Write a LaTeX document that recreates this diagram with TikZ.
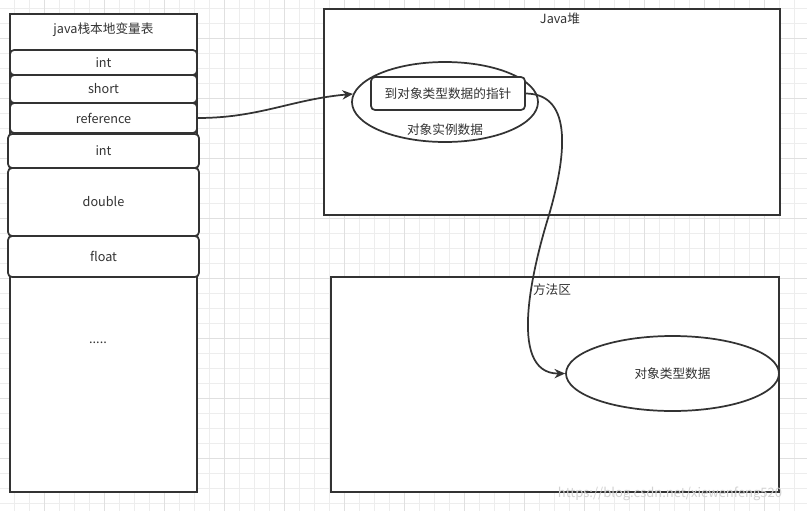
\documentclass[tikz,border=0pt]{standalone}
\usepackage{fontspec}
\setmainfont{Noto Sans CJK SC}
\usetikzlibrary{arrows.meta, shapes.geometric}
\usepackage{xcolor}
\definecolor{lnc}{HTML}{333333}
\definecolor{gridminor}{HTML}{EDEDED}
\definecolor{gridmajor}{HTML}{E0E0E0}
\newdimen\pxu \pxu=0.75pt

\begin{document}
\begin{tikzpicture}[x=0.75pt,y=-0.75pt,
  box/.style={draw=lnc,fill=white,line width=1.3pt,inner sep=0pt},
  cell/.style={box,rounded corners=3pt,font=\fontsize{9.5}{11}\selectfont,text=lnc},
  blob/.style={box,ellipse,font=\fontsize{9.5}{11}\selectfont,text=lnc},
  lbl/.style={font=\fontsize{9.5}{11}\selectfont,text=lnc,inner sep=0pt},
  arr/.style={-{Stealth[length=8pt,width=7pt]},lnc,line width=1.3pt}
]
\useasboundingbox (0,0) rectangle (807,511);
% background grid
\fill[white] (0,0) rectangle (807,511);
\foreach \gx in {14.3,29.3,...,807} \draw[gridminor,line width=0.75pt] (\gx,0) -- (\gx,511);
\foreach \gy in {8.3,23.3,...,511} \draw[gridminor,line width=0.75pt] (0,\gy) -- (807,\gy);
\foreach \gx in {44.3,104.3,...,807} \draw[gridmajor,line width=0.75pt] (\gx,0) -- (\gx,511);
\foreach \gy in {38.3,98.3,...,511} \draw[gridmajor,line width=0.75pt] (0,\gy) -- (807,\gy);

% local variable table
\node[box,minimum width=187\pxu,minimum height=478\pxu] (stack) at (103.5,253) {};
\node[lbl] (stacklbl) at (103.5,30) {java栈本地变量表};
\node[cell,minimum width=187\pxu,minimum height=25\pxu] (int1)  at (103.5,62.5) {int};
\node[cell,minimum width=187\pxu,minimum height=28\pxu] (short) at (103.5,89)   {short};
\node[cell,minimum width=187\pxu,minimum height=30\pxu] (ref)   at (103.5,118)  {reference};
\node[cell,minimum width=191\pxu,minimum height=34\pxu] (int2)  at (103.5,151)  {int};
\node[cell,minimum width=191\pxu,minimum height=68\pxu] (dbl)   at (103.5,202)  {double};
\node[cell,minimum width=191\pxu,minimum height=41\pxu] (flt)   at (103.5,256.5) {float};
\node[lbl] (dots) at (98,343) {.....};

% heap
\node[box,minimum width=456\pxu,minimum height=206\pxu] (heap) at (552,112) {};
\node[lbl] (heaplbl) at (560,19) {Java堆};
\node[blob,minimum width=186\pxu,minimum height=80\pxu] (heapobj) at (445,102) {};
\node[cell,minimum width=154\pxu,minimum height=33\pxu] (ptr) at (448,93.5) {到对象类型数据的指针};
\node[lbl] (instlbl) at (445,130) {对象实例数据};

% method area
\node[box,minimum width=448\pxu,minimum height=215\pxu] (method) at (555,384.5) {};
\node[lbl] (methodlbl) at (552,290) {方法区};
\node[blob,minimum width=213\pxu,minimum height=75\pxu] (typeobj) at (672.5,373.5) {对象类型数据};

\node[lbl,text=gray!35,font=\fontsize{9.75}{11}\selectfont] (mark) at (670,494) {https://blog.csdn.net/xiewenfeng520};

% connectors
\coordinate (via) at (549,215);
\draw[arr] (ref.east) to[out=0,in=185] (heapobj.175);
\draw[arr] (ptr.east) .. controls (575,94) and (565,160) .. (via)
  .. controls (535,260) and (505,374) .. (typeobj.west);
\end{tikzpicture}
\end{document}
